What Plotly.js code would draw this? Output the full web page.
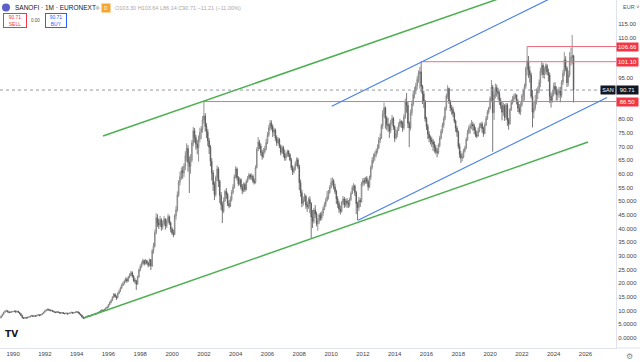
<!DOCTYPE html>
<html><head><meta charset="utf-8">
<script src="https://cdn.plot.ly/plotly-3.0.1.min.js"></script>
<style>html,body{margin:0;padding:0;background:#fff}#c{width:640px;height:362px}</style>
</head><body><div id="c"></div>
<script>
// ---- data: monthly candles, first month = 1989-03 ----
const startYear = 1989, startMonth = 3;
const firstOpen = 7.1;
const closes = [
 7.3,7.9,8.6,9.3,9.7,9.9,9.5,9.2,9.4,9.5,
 9.6,9.8,9.4,9.7,9.3,8.8,8.1,7.3,7.1,7.4,7.2,7.5,
 7.6,7.9,8.1,7.8,8.0,7.9,8.2,8.4,8.1,8.5,8.8,9.3,
 9.8,10.1,10.4,10.2,9.9,10.0,9.6,9.4,9.2,9.5,9.3,9.1,
 9.0,9.2,8.9,8.8,9.0,8.7,8.9,9.1,9.3,9.0,9.2,9.4,
 9.5,9.2,8.7,8.3,7.6,7.1,7.4,7.6,7.9,8.1,8.0,8.3,
 8.5,8.6,8.9,8.8,9.2,9.5,9.8,10.1,10.0,10.4,10.8,11.2,
 12.1,12.9,13.6,14.8,15.9,15.1,14.6,16.2,17.0,18.1,19.2,19.8,
 20.6,21.4,20.8,22.1,23.0,23.8,22.6,21.0,20.8,19.6,22.3,24.8,
 26.1,27.2,28.3,27.1,28.2,27.4,26.5,28.6,26.3,31.8,33.6,38.5,
 43.9,42.1,41.3,43.2,40.6,41.8,43.4,40.9,42.6,44.3,42.1,39.8,
 38.4,37.9,44.6,46.8,52.3,57.1,58.9,61.2,60.4,62.8,66.7,69.3,
 64.2,62.8,65.1,71.3,75.8,73.4,70.9,69.6,72.8,75.2,76.4,79.8,
 81.2,77.4,75.3,72.1,69.8,64.6,60.3,56.1,52.4,58.6,61.8,57.3,
 52.1,48.6,46.3,50.2,53.6,52.4,49.1,48.2,50.6,53.2,55.1,58.9,
 61.8,58.6,56.4,57.9,55.2,53.8,56.1,54.3,57.2,58.4,59.6,58.7,
 59.1,57.4,56.9,62.3,68.9,71.6,70.2,67.8,66.4,68.1,69.2,71.5,
 74.2,76.8,78.6,77.4,75.3,76.1,73.2,71.4,72.6,70.1,67.9,69.6,
 67.4,65.8,66.9,68.3,67.1,65.2,62.3,60.8,61.9,63.7,65.2,62.8,
 56.8,53.1,49.2,50.4,51.8,48.6,47.9,50.6,49.1,44.2,42.6,46.8,
 45.3,41.8,42.6,44.9,43.8,45.6,47.2,48.8,50.3,51.7,53.2,55.1,
 56.8,57.4,55.2,53.6,50.8,49.2,47.1,46.3,49.5,50.8,48.6,50.1,
 49.3,48.7,50.6,52.8,54.9,55.6,53.2,49.1,47.6,50.3,49.8,56.4,
 57.6,56.9,58.4,57.1,55.3,58.8,62.4,64.9,66.3,67.1,68.4,69.5,
 72.4,73.1,77.6,81.9,84.2,80.3,78.1,77.6,75.8,78.9,80.3,77.2,
 73.1,74.6,75.9,77.8,79.2,78.6,76.9,80.8,86.3,85.1,78.6,76.8,
 82.4,85.6,89.1,90.4,92.3,94.6,96.8,97.4,92.1,89.3,86.7,80.2,
 77.4,74.6,73.2,72.4,71.8,70.9,69.6,68.3,67.8,70.4,73.1,75.6,
 77.9,80.2,84.1,88.6,91.3,86.4,84.2,83.6,82.1,79.4,76.8,75.3,
 70.1,67.2,65.8,66.1,68.3,69.4,72.6,75.1,76.9,77.4,78.2,77.6,
 76.1,74.2,73.9,75.8,77.4,78.3,76.6,74.8,77.9,80.3,82.6,84.1,
 87.6,91.8,82.4,88.9,91.6,90.2,89.4,86.8,85.1,82.6,84.9,80.7,
 85.2,79.6,78.4,83.6,86.1,87.4,88.2,88.9,86.3,84.1,82.7,85.3,
 88.6,90.4,92.1,98.6,101.4,97.8,96.2,88.4,82.6,84.1,86.8,89.6,
 90.8,93.4,97.6,99.8,96.4,98.1,99.6,97.3,96.2,88.4,86.9,89.2,
 92.1,90.6,88.9,89.7,90.4,88.8,93.6,96.9,101.8,98.7,93.4,96.2,
 101.4,102.8,103.3,90.71
];
const highs = [
 7.5,8.1,8.8,9.5,10.0,10.2,9.9,9.6,9.6,9.8,
 9.8,10.0,9.9,9.9,9.8,9.4,8.9,8.2,7.5,7.6,7.6,7.7,
 7.8,8.1,8.3,8.2,8.2,8.1,8.4,8.6,8.5,8.7,9.0,9.5,
 10.0,10.4,10.7,10.6,10.3,10.2,10.1,9.7,9.5,9.7,9.6,9.4,
 9.3,9.4,9.3,9.1,9.2,9.1,9.1,9.3,9.5,9.4,9.4,9.6,
 9.7,9.7,9.3,8.8,8.4,7.8,7.6,7.8,8.1,8.3,8.3,8.5,
 8.7,8.8,9.1,9.1,9.4,9.7,10.1,10.4,10.3,10.6,11.1,11.5,
 12.4,13.3,14.1,15.2,16.4,16.2,15.5,16.6,17.6,18.7,19.8,20.6,
 21.3,22.2,22.0,22.6,23.6,24.5,24.3,23.0,21.9,21.2,22.8,25.4,
 26.8,27.9,28.9,28.6,28.8,28.5,27.8,29.0,28.8,32.5,34.8,39.6,
 45.6,45.2,43.5,44.6,43.8,42.9,44.6,43.8,43.5,45.4,44.8,42.6,
 40.5,39.6,45.3,48.2,53.6,57.7,60.8,62.4,62.8,63.9,68.3,71.2,
 70.5,66.4,67.2,72.4,77.2,76.8,74.3,72.4,74.1,76.9,77.5,81.2,
 86.5,82.3,78.6,76.4,73.2,70.6,65.8,61.4,57.2,59.4,63.1,62.5,
 57.9,53.4,49.8,51.4,54.2,54.8,53.1,50.3,51.8,54.1,56.2,59.8,
 62.8,62.4,59.2,58.8,58.4,56.3,56.9,56.8,57.9,59.2,60.4,60.1,
 60.2,59.8,58.4,63.1,69.8,73.5,72.4,71.1,68.8,69.4,70.3,72.8,
 75.3,77.9,79.7,79.6,78.1,76.9,76.6,74.1,73.5,73.2,70.8,70.4,
 70.3,68.9,67.8,68.9,68.7,67.6,65.8,63.1,62.8,64.6,66.1,65.9,
 63.4,57.9,54.2,51.6,52.9,52.4,49.8,51.4,51.8,49.7,46.8,47.6,
 48.6,46.2,43.8,45.6,45.9,46.4,48.1,49.6,51.2,53.8,54.1,55.9,
 58.5,58.7,58.1,56.4,54.2,51.8,50.1,48.4,50.1,51.9,51.6,50.9,
 51.2,50.4,51.3,53.6,55.8,56.6,56.1,53.8,49.8,51.6,51.2,57.1,
 58.5,58.6,58.9,59.2,57.9,59.4,63.1,66.1,67.5,68.2,69.2,70.8,
 73.5,74.8,78.3,83.4,86.1,84.7,81.2,80.6,78.5,79.8,81.6,80.9,
 77.8,76.2,77.1,78.9,80.2,79.7,79.3,81.9,87.6,89.6,86.7,79.2,
 83.6,86.9,90.6,91.8,93.4,95.8,97.9,99.2,101.1,92.6,90.4,87.1,
 80.9,78.3,75.6,74.1,73.6,72.8,71.9,70.6,69.4,71.2,74.0,76.4,
 78.8,81.1,84.7,89.4,92.5,91.6,87.1,85.3,84.6,82.8,79.9,77.6,
 75.9,71.2,68.4,67.6,69.2,70.3,73.4,76.2,77.8,78.5,79.7,79.1,
 78.4,77.1,75.6,76.9,78.6,78.9,79.1,77.3,78.8,81.2,83.4,84.6,
 88.4,94.4,92.6,90.2,93.1,92.7,91.6,90.3,87.9,86.4,86.1,85.6,
 86.0,85.9,80.5,84.2,87.2,88.6,89.4,89.6,89.1,87.4,85.6,86.2,
 89.3,91.2,93.1,99.4,106.66,103.2,99.4,97.1,90.8,86.5,88.9,91.3,
 92.1,94.6,98.9,101.0,100.6,99.2,100.5,100.3,98.6,97.1,89.8,90.6,
 93.4,93.6,92.1,91.2,91.8,91.9,94.4,98.2,104.6,103.1,99.4,97.8,
 104.6,106.2,110.9,103.64
];
const lows = [
 7.0,7.2,7.8,8.5,9.2,9.5,9.2,9.0,9.1,9.2,
 9.3,9.5,9.2,9.3,9.1,8.6,7.9,7.1,6.9,7.0,7.0,7.1,
 7.3,7.5,7.8,7.6,7.7,7.7,7.8,8.1,7.9,8.0,8.4,8.7,
 9.2,9.7,9.9,9.9,9.7,9.7,9.4,9.2,9.0,9.1,9.1,8.9,
 8.8,8.9,8.7,8.6,8.7,8.5,8.6,8.8,9.0,8.8,8.9,9.1,
 9.2,9.0,8.5,8.1,7.4,6.9,7.0,7.3,7.5,7.8,7.8,7.9,
 8.2,8.3,8.5,8.6,8.7,9.1,9.4,9.7,9.8,9.9,10.3,10.7,
 11.0,11.9,12.6,13.4,14.6,14.7,13.8,14.4,15.9,16.8,17.9,18.9,
 19.5,20.3,20.1,20.5,21.8,22.6,22.0,20.4,19.8,17.5,19.4,22.0,
 24.3,25.6,26.8,26.4,26.8,26.8,25.8,26.1,24.8,25.9,30.8,33.0,
 37.8,40.6,39.8,40.5,39.2,39.6,41.2,39.6,40.2,41.8,41.3,38.6,
 37.6,36.8,37.5,43.2,46.1,51.6,55.8,57.8,58.2,58.9,61.4,64.6,
 60.8,53.0,60.1,64.3,70.1,71.5,68.9,67.2,64.5,71.6,72.8,75.1,
 78.4,75.6,73.1,70.2,67.3,62.8,57.6,53.8,50.4,51.6,57.4,55.2,
 49.3,46.8,42.0,45.6,49.7,50.8,48.2,47.4,47.8,49.9,52.6,54.6,
 58.4,57.6,55.6,55.8,54.3,52.6,53.2,53.4,53.9,56.8,57.8,57.9,
 57.8,56.6,56.1,56.4,62.0,68.3,69.1,66.7,65.2,65.8,67.4,68.6,
 70.9,73.6,75.8,76.2,73.5,73.9,72.1,70.2,70.8,69.4,66.8,67.3,
 66.1,64.8,64.9,66.2,66.2,64.6,61.4,59.6,60.1,61.2,62.8,61.9,
 54.1,51.6,47.8,48.3,49.8,47.2,46.1,47.2,45.6,36.5,40.2,41.8,
 43.9,40.8,39.2,41.6,42.8,43.1,44.5,46.7,47.9,49.8,50.6,52.8,
 54.6,55.8,54.3,52.6,48.9,47.6,45.8,45.1,45.8,48.7,47.5,47.9,
 47.6,47.5,47.8,50.1,52.6,53.8,51.9,45.3,43.0,46.4,47.9,49.5,
 55.4,55.8,56.4,56.2,53.9,54.8,57.8,61.6,63.9,64.8,66.1,67.5,
 69.1,71.3,72.8,76.4,80.6,76.6,76.1,75.4,73.2,74.9,77.8,76.1,
 71.7,72.6,73.4,75.8,77.1,76.9,75.4,76.1,80.2,82.4,76.8,69.8,
 75.9,81.3,84.8,87.6,89.1,90.8,93.4,91.2,89.8,85.6,84.2,79.1,
 76.1,72.8,71.6,70.8,69.9,68.4,67.8,67.2,66.1,67.2,69.8,72.6,
 74.8,76.9,79.6,83.2,87.5,85.6,82.9,81.7,80.8,78.6,75.4,73.6,
 69.2,65.9,64.0,64.6,65.7,67.8,69.1,72.1,74.6,74.8,76.4,75.8,
 74.6,73.5,73.1,73.6,75.2,76.8,75.1,73.6,74.5,77.6,79.8,81.9,
 83.5,86.7,68.1,79.8,87.6,88.3,87.2,85.3,83.8,79.6,81.3,79.4,
 79.8,77.6,76.2,77.9,83.1,85.4,86.7,87.3,85.4,82.6,81.9,81.6,
 84.6,86.4,86.9,91.2,96.1,95.2,93.4,87.6,77.0,80.3,83.2,85.4,
 87.4,89.6,91.8,96.2,95.1,94.8,96.4,96.1,93.8,86.0,84.3,86.1,
 88.4,89.3,86.8,86.9,87.9,86.2,87.9,92.6,95.8,97.6,91.8,92.1,
 95.4,99.6,100.2,86.14
];

// horizontal levels (rays)
const levelValues = [86.50, 101.10, 106.66];
const levelStarts = ['2002-01-01', '2015-09-01', '2022-05-01'];
// trend lines (two anchor points each: date, price)
const greenUpperX = ['1995-08-29', '2026-03-01'], greenUpperY = [73.9, 135.5];
const greenLowerX = ['1994-06-20', '2026-03-01'], greenLowerY = [7.2, 71.7];
const blueUpperX  = ['2010-01-15', '2025-06-01'], blueUpperY  = [84.8, 128.9];
const blueLowerX  = ['2011-09-12', '2027-05-10'], blueLowerY  = [43.0, 88.0];

// axis ticks (85, 90, 100, 105 are hidden behind the price tags in the reference)
const yTickVals = [0,5,10,15,20,25,30,35,40,45,50,55,60,65,70,75,80,95,110,115];
const yTickText = ['0.0000','5.0000','10.000','15.000','20.000','25.000','30.000','35.000','40.000','45.000','50.000',
  '55.00','60.00','65.00','70.00','75.00','80.00','95.00','110.00','115.00'];
const xTickYears = [1990,1992,1994,1996,1998,2000,2002,2004,2006,2008,2010,2012,2014,2016,2018,2020,2022,2024,2026];

// ---- build ----
const dates = closes.map((_, i) => {
  const m = startMonth - 1 + i;
  const y = startYear + Math.floor(m / 12);
  const mm = (m % 12) + 1;
  return y + '-' + String(mm).padStart(2, '0') + '-01';
});
const opens = closes.map((c, i) => i === 0 ? firstOpen : closes[i - 1]);
const last = closes[closes.length - 1];

const W = 616, H = 348;
const px = x => x / W, py = y => (H - y) / H;

const traces = [
  {type:'candlestick', x:dates, open:opens, high:highs, low:lows, close:closes,
   increasing:{line:{color:'#7a7a7a', width:0.8}, fillcolor:'#ffffff'},
   decreasing:{line:{color:'#555555', width:0.8}, fillcolor:'#555555'},
   whiskerwidth:0, hoverinfo:'skip'},
];
levelValues.forEach((v, i) => traces.push({type:'scatter', mode:'lines', x:[levelStarts[i], '2028-06-01'], y:[v, v],
  line:{color:'#ef6b78', width:1}, hoverinfo:'skip'}));
traces.push({type:'scatter', mode:'lines', x:greenUpperX, y:greenUpperY, line:{color:'#4caf50', width:1.5}, hoverinfo:'skip'});
traces.push({type:'scatter', mode:'lines', x:greenLowerX, y:greenLowerY, line:{color:'#4caf50', width:1.5}, hoverinfo:'skip'});
traces.push({type:'scatter', mode:'lines', x:blueUpperX, y:blueUpperY, line:{color:'#4a80e8', width:1.2}, hoverinfo:'skip'});
traces.push({type:'scatter', mode:'lines', x:blueLowerX, y:blueLowerY, line:{color:'#4a80e8', width:1.2}, hoverinfo:'skip'});

const annotations = [];
// price-axis tags
levelValues.forEach(v => annotations.push({xref:'paper', yref:'y', x:1, y:v, xanchor:'left', yanchor:'middle',
  text:v.toFixed(2), showarrow:false, bgcolor:'#f23645', font:{size:6, color:'#ffffff'}, borderpad:1, width:19, height:6}));
annotations.push({xref:'paper', yref:'y', x:1, y:last, xanchor:'left', yanchor:'middle', text:last.toFixed(2),
  showarrow:false, bgcolor:'#131722', font:{size:6, color:'#ffffff'}, borderpad:1, width:19, height:6});
annotations.push({xref:'paper', yref:'y', x:1, y:last, xanchor:'right', yanchor:'middle', text:'SAN',
  showarrow:false, bgcolor:'#131722', font:{size:5.5, color:'#ffffff'}, borderpad:1, width:12, height:6});
// header
annotations.push({xref:'paper', yref:'paper', x:px(13), y:py(7.5), xanchor:'left', yanchor:'middle',
  text:'SANOFI · 1M · EURONEXT', showarrow:false, font:{size:6.5, color:'#131722', family:'Liberation Sans, Arial'}});
annotations.push({xref:'paper', yref:'paper', x:px(97), y:py(7.5), xanchor:'center', yanchor:'middle',
  text:'✻', showarrow:false, font:{size:6, color:'#b0b0b0'}});
annotations.push({xref:'paper', yref:'paper', x:px(106), y:py(7.5), xanchor:'center', yanchor:'middle',
  text:'D', showarrow:false, bgcolor:'#f7a531', font:{size:4.5, color:'#ffffff'}, width:6, height:6});
annotations.push({xref:'paper', yref:'paper', x:px(113), y:py(7.5), xanchor:'left', yanchor:'middle',
  text:'O103.30 H103.64 L86.14 C90.71 −11.21 (−11.00%)', showarrow:false,
  font:{size:5.5, color:'#a8a8a8', family:'Liberation Sans, Arial'}});
annotations.push({xref:'paper', yref:'paper', x:px(15), y:py(20.5), xanchor:'center', yanchor:'middle',
  text:last.toFixed(2)+'<br>SELL', showarrow:false, font:{size:5, color:'#f23645'}, bordercolor:'#f23645',
  borderwidth:1, bgcolor:'#ffffff', width:22, height:13, borderpad:0});
annotations.push({xref:'paper', yref:'paper', x:px(35), y:py(20.5), xanchor:'center', yanchor:'middle',
  text:'0.00', showarrow:false, font:{size:4.5, color:'#555'}});
annotations.push({xref:'paper', yref:'paper', x:px(56), y:py(20.5), xanchor:'center', yanchor:'middle',
  text:last.toFixed(2)+'<br>BUY', showarrow:false, font:{size:5, color:'#2962ff'}, bordercolor:'#2962ff',
  borderwidth:1, bgcolor:'#ffffff', width:20, height:13, borderpad:0});
annotations.push({xref:'paper', yref:'paper', x:px(621), y:py(7), xanchor:'left', yanchor:'middle',
  text:'EUR ˅', showarrow:false, font:{size:5.5, color:'#555'}});
annotations.push({xref:'paper', yref:'paper', x:px(3), y:py(334), xanchor:'left', yanchor:'middle',
  text:'<b>TV</b>', showarrow:false, font:{size:9, color:'#131722', family:'DejaVu Sans'}});
annotations.push({xref:'paper', yref:'paper', x:px(629), y:py(356), xanchor:'center', yanchor:'middle',
  text:'⚙', showarrow:false, font:{size:8, color:'#888'}});

const shapes = [
  {type:'line', xref:'paper', yref:'y', x0:0, x1:px(603), y0:last, y1:last, line:{color:'#9598a1', width:1, dash:'dot'}},
  {type:'circle', xref:'paper', yref:'paper', x0:px(2), x1:px(10), y0:py(11.5), y1:py(3.5), fillcolor:'#5b5fc7', line:{width:0}},
  {type:'line', xref:'paper', yref:'paper', x0:1, x1:px(640), y0:0, y1:0, line:{color:'#e0e3eb', width:1}},
];

const layout = {
  width:640, height:362, margin:{l:0, r:24, t:0, b:14, pad:0},
  paper_bgcolor:'#ffffff', plot_bgcolor:'#ffffff', showlegend:false,
  font:{family:'Liberation Sans, Arial, sans-serif', color:'#333'},
  xaxis:{type:'date', range:['1989-03-07','2027-12-02'], rangeslider:{visible:false},
    tickvals:xTickYears.map(y => y + '-01-01'), ticktext:xTickYears.map(String),
    showgrid:false, zeroline:false, ticks:'', tickfont:{size:6, color:'#444'},
    showline:true, linecolor:'#e0e3eb', linewidth:1, fixedrange:true},
  yaxis:{side:'right', range:[-3.77, 123.7], tickvals:yTickVals, ticktext:yTickText,
    showgrid:false, zeroline:false, ticks:'', tickfont:{size:6, color:'#444'},
    showline:true, linecolor:'#e0e3eb', linewidth:1, fixedrange:true},
  annotations:annotations, shapes:shapes,
};
Plotly.newPlot('c', traces, layout, {displayModeBar:false, staticPlot:true});
</script>
</body></html>
